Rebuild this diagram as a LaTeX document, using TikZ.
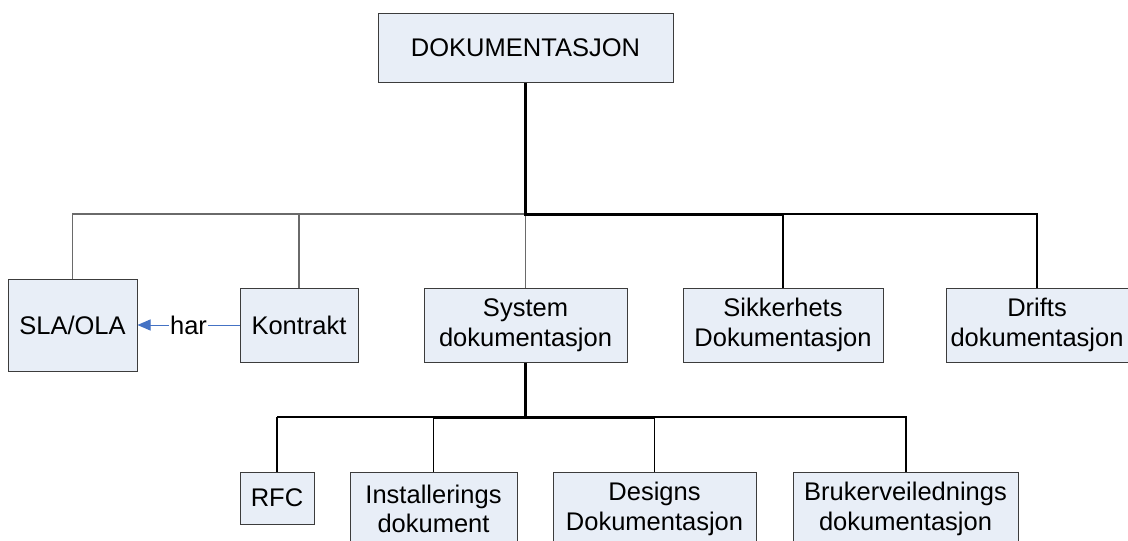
\documentclass[tikz,border=0pt]{standalone}
\usepackage{fontspec}
\setmainfont{Liberation Sans}
\usetikzlibrary{arrows.meta}
\definecolor{boxfill}{HTML}{E8EEF7}
\definecolor{boxline}{HTML}{3C3C3C}
\definecolor{thingray}{HTML}{6A6A6A}
\definecolor{arrowblue}{HTML}{4472C4}
\tikzset{
  docbox/.style={draw=boxline, line width=1pt, fill=boxfill, inner sep=0pt,
    align=center, font=\fontsize{25.5}{29.5}\selectfont},
  heavy/.style={draw=black, line width=3pt},
  medium/.style={draw=black, line width=2pt},
  light/.style={draw=thingray, line width=1.3pt},
  relation/.style={draw=arrowblue, line width=1pt,
    -{Triangle[length=13pt,width=11pt]}},
}
\begin{document}
\begin{tikzpicture}[x=1pt,y=-1pt]
\useasboundingbox (0,0) rectangle (1128,541);
\clip (0,0) rectangle (1128,541);
\fill[white] (0,0) rectangle (1128,541);

% boxes
\node[docbox, minimum width=295pt, minimum height=69pt] (top) at (525.5,47.5) {DOKUMENTASJON};
\node[docbox, minimum width=129pt, minimum height=92pt] (sla) at (72.5,325) {SLA/OLA};
\node[docbox, minimum width=118pt, minimum height=74pt] (kon) at (299,325) {Kontrakt};
\node[docbox, minimum width=203pt, minimum height=74pt] (sys) at (525.5,325) {System\\dokumentasjon};
\node[docbox, minimum width=200pt, minimum height=74pt] (sik) at (783,325) {Sikkerhets\\Dokumentasjon};
\node[docbox, minimum width=182pt, minimum height=74pt] (drift) at (1037,325) {Drifts\\dokumentasjon};
\node[docbox, minimum width=74pt, minimum height=52pt] (rfc) at (277,498) {RFC};
\node[docbox, minimum width=167pt, minimum height=74pt] (inst) at (433.5,509) {Installerings\\dokument};
\node[docbox, minimum width=203pt, minimum height=74pt] (des) at (654.5,509) {Designs\\Dokumentasjon};
\node[docbox, minimum width=225pt, minimum height=74pt] (bru) at (905.5,509) {Brukerveilednings\\dokumentasjon};

% junctions of the two trees
\coordinate (j1) at (525.5,214);
\coordinate (j2) at (525.5,417);

% upper tree
\draw[light] (j1) -- (sla.north |- j1) -- (sla.north);
\draw[light] (kon.north |- j1) -- (kon.north);
\draw[light] (j1) -- (sys.north);
\draw[medium] (sik.north |- j1) -- (drift.north |- j1) -- (drift.north);
\draw[medium] (sik.north |- j1) -- (sik.north);
\draw[heavy] (top.south) -- (j1) -- (sik.north |- j1);

% lower tree
\draw[medium] (rfc.north |- j2) -- (inst.north |- j2);
\draw[medium] (des.north |- j2) -- (bru.north |- j2) -- (bru.north);
\draw[light, draw=black, line width=1.5pt] (inst.north |- j2) -- (inst.north);
\draw[light, draw=black, line width=1.5pt] (des.north |- j2) -- (des.north);
\draw[line width=2.5pt] (rfc.north |- j2) -- (rfc.north);
\draw[heavy] (sys.south) -- (j2);
\draw[heavy] (inst.north |- j2) -- (des.north |- j2);

% relation between contract and SLA/OLA
\draw[relation] (kon.west) -- node[fill=white, inner sep=1pt,
  font=\fontsize{25.5}{29.5}\selectfont, text=black] {har} (sla.east);
\end{tikzpicture}
\end{document}
